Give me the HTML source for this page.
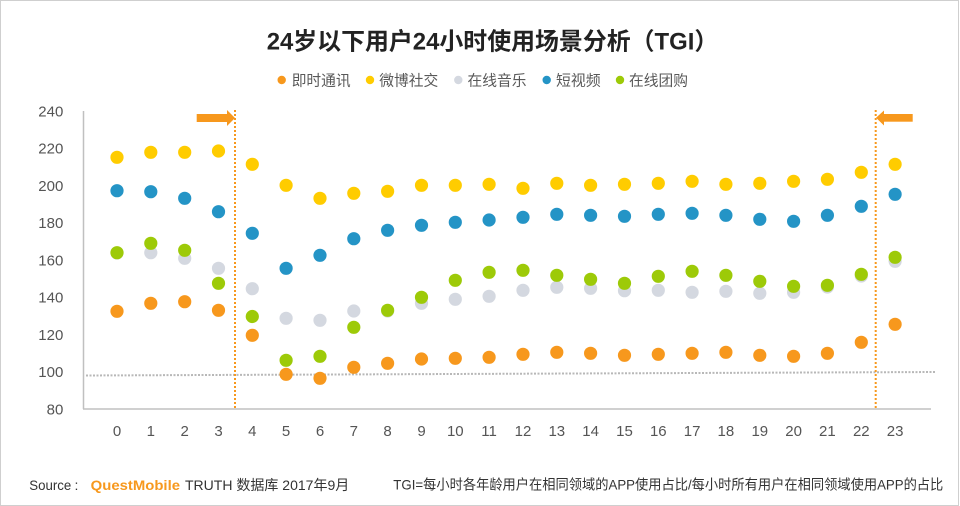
<!DOCTYPE html>
<html><head><meta charset="utf-8"><style>
html,body{margin:0;padding:0;background:#fff;}
svg{display:block;}
text{font-family:"Liberation Sans","Noto Sans CJK SC",sans-serif;}
</style></head><body>
<svg width="960" height="506" viewBox="0 0 960 506" xmlns="http://www.w3.org/2000/svg">
<rect x="0.5" y="0.5" width="958" height="505" fill="#fff" stroke="#cfcfcf" stroke-width="1"/>
<text x="266.7" y="49.5" font-size="24" font-weight="bold" fill="#222" textLength="451.6" lengthAdjust="spacingAndGlyphs">24岁以下用户24小时使用场景分析（TGI）</text>
<g font-size="15" fill="#595959">
<circle cx="281.7" cy="80" r="4.2" fill="#F7981D"/><text x="291.7" y="85.5" textLength="59" lengthAdjust="spacingAndGlyphs">即时通讯</text>
<circle cx="370" cy="80" r="4.2" fill="#FFCC00"/><text x="379.3" y="85.5" textLength="59" lengthAdjust="spacingAndGlyphs">微博社交</text>
<circle cx="458.3" cy="80" r="4.2" fill="#D4D8E0"/><text x="467.5" y="85.5" textLength="59" lengthAdjust="spacingAndGlyphs">在线音乐</text>
<circle cx="546.7" cy="80" r="4.2" fill="#2494C6"/><text x="556" y="85.5" textLength="44.7" lengthAdjust="spacingAndGlyphs">短视频</text>
<circle cx="620" cy="80" r="4.2" fill="#9DCA08"/><text x="629" y="85.5" textLength="59" lengthAdjust="spacingAndGlyphs">在线团购</text>
</g>
<g font-size="15" fill="#555" text-anchor="end">
<text x="63.3" y="116.4">240</text>
<text x="63.3" y="153.6">220</text>
<text x="63.3" y="190.9">200</text>
<text x="63.3" y="228.1">180</text>
<text x="63.3" y="265.4">160</text>
<text x="63.3" y="302.6">140</text>
<text x="63.3" y="339.9">120</text>
<text x="63.3" y="377.1">100</text>
<text x="63.3" y="414.4">80</text>
</g>
<g font-size="15" fill="#555" text-anchor="middle" id="xl"></g>
<line x1="83.5" y1="111" x2="83.5" y2="409" stroke="#c0c0c0" stroke-width="1.5"/>
<line x1="83" y1="409" x2="931" y2="409" stroke="#c0c0c0" stroke-width="1.5"/>
<line x1="86" y1="375.5" x2="936" y2="372" stroke="#b8b8b8" stroke-width="2" stroke-dasharray="2 1.5"/>
<line x1="235" y1="110" x2="235" y2="408" stroke="#F7981D" stroke-width="2" stroke-dasharray="2 2"/>
<line x1="875.7" y1="110" x2="875.7" y2="408" stroke="#F7981D" stroke-width="2" stroke-dasharray="2 2"/>
<rect x="196.7" y="114" width="30.6" height="8" fill="#F7981D"/>
<polygon points="227,110 235,118 227,126" fill="#F7981D"/>
<rect x="883.7" y="114" width="29" height="7.7" fill="#F7981D"/>
<polygon points="884,110.5 876,117.8 884,125.5" fill="#F7981D"/>
<g id="dots"></g>
<g font-size="14" fill="#333">
<text x="29.3" y="490" textLength="42" lengthAdjust="spacingAndGlyphs">Source</text>
<text x="74.5" y="490">:</text>
<text x="90.7" y="490" font-weight="bold" fill="#F7981D" textLength="89.3" lengthAdjust="spacingAndGlyphs">QuestMobile</text>
<text x="185" y="490" textLength="164.3" lengthAdjust="spacingAndGlyphs">TRUTH 数据库 2017年9月</text>
<text x="393.3" y="489.5" textLength="550" lengthAdjust="spacingAndGlyphs">TGI=每小时各年龄用户在相同领域的APP使用占比/每小时所有用户在相同领域使用APP的占比</text>
</g>
</svg>
<script>
(function(){
var NS="http://www.w3.org/2000/svg";
function X(i){return 117+33.83*i;}
var xl=document.getElementById("xl");
for(var i=0;i<24;i++){var t=document.createElementNS(NS,"text");t.setAttribute("x",X(i).toFixed(1));t.setAttribute("y","436");t.textContent=String(i);xl.appendChild(t);}
var series=[
["#F7981D",[311.3,303.3,301.7,310.3,335.3,374.3,378.3,367.3,363.3,359,358.3,357.3,354.3,352.3,353.3,355.3,354.3,353.3,352.3,355.3,356.3,353.3,342.3,324.3]],
["#FFCC00",[157.3,152.3,152.3,151,164.3,185.3,198.3,193.3,191.3,185.3,185.3,184.3,188.3,183.3,185.3,184.3,183.3,181.3,184.3,183.3,181.3,179.3,172.3,164.3]],
["#D4D8E0",[253,252.7,258.3,268.3,288.7,318.3,320.3,311,311,303.3,299.3,296.3,290.3,287.3,288.3,290.7,290.3,292.3,291.3,293.3,292.3,287,276,261.3]],
["#2494C6",[190.7,191.7,198.3,211.7,233.3,268.3,255.3,238.7,230.3,225.3,222.3,220,217.3,214.3,215.3,216.3,214.3,213.3,215.3,219.3,221.3,215.3,206.3,194.3]],
["#9DCA08",[252.7,243.3,250.3,283.3,316.5,360.3,356.3,327.3,310.3,297.3,280.3,272.3,270.3,275.3,279.3,283.3,276.3,271.3,275.3,281.3,286.3,285.3,274.3,257.3]]
];
var g=document.getElementById("dots");
series.forEach(function(s){s[1].forEach(function(y,i){var c=document.createElementNS(NS,"circle");c.setAttribute("cx",X(i).toFixed(1));c.setAttribute("cy",y);c.setAttribute("r","6.6");c.setAttribute("fill",s[0]);g.appendChild(c);});});
})();
</script>
</body></html>
